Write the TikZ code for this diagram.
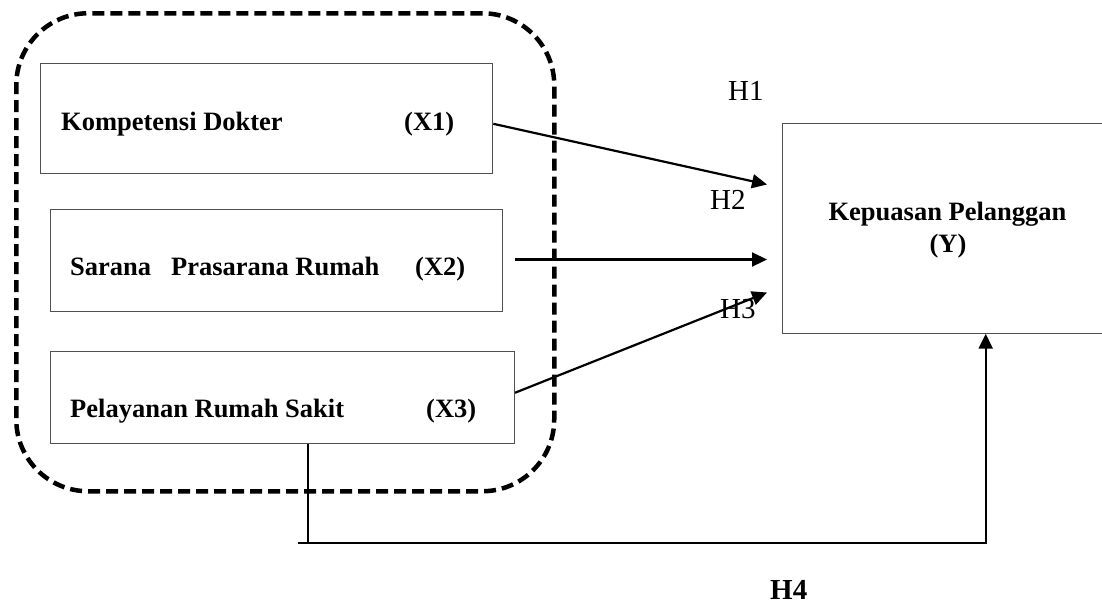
\documentclass[tikz,border=0pt]{standalone}
\usepackage{fontspec}
\setmainfont{Liberation Serif}
\usetikzlibrary{arrows.meta}
\definecolor{boxgray}{HTML}{505050}
\begin{document}
\begin{tikzpicture}[x=1pt,y=-1pt,
  box/.style={draw=boxgray, line width=1pt, inner sep=0pt, anchor=north west},
  lbl/.style={anchor=base west, inner sep=0pt, font=\fontsize{26.5}{32}\selectfont\bfseries},
  hyp/.style={anchor=base west, inner sep=0pt, font=\fontsize{29}{34}\selectfont},
  conn/.style={line width=2.2pt, draw=black},
  arr/.style={conn, -{Triangle[length=15pt,width=14pt]}},
  grpline/.style={draw=black, line width=4.5pt, dash pattern=on 12pt off 6pt, rounded corners=72pt, inner sep=0pt, anchor=north west}
]
\useasboundingbox (0,0) rectangle (1102,606);

% boxes
\node[box, minimum width=452.3pt, minimum height=110pt] (x1) at (40,62.7) {};
\node[box, minimum width=452pt, minimum height=101.4pt] (x2) at (50,209.3) {};
\node[box, minimum width=464pt, minimum height=91.7pt] (x3) at (50,351) {};
\node[box, minimum width=330pt, minimum height=210pt] (y) at (781.7,122.7) {};

% group
\node[grpline, minimum width=538pt, minimum height=478pt] (grp) at (14,11) {};

% texts
\node[lbl] (x1a) at (61,130) {Kompetensi Dokter};
\node[lbl] (x1b) at (404,130) {(X1)};
\node[lbl] (x2a) at (70,275) {Sarana\hspace{0.5em} Prasarana Rumah};
\node[lbl] (x2b) at (415,275) {(X2)};
\node[lbl] (x3a) at (70,417) {Pelayanan Rumah Sakit};
\node[lbl] (x3b) at (426,417) {(X3)};
\node[lbl, anchor=base] (ya) at (947.5,220) {Kepuasan Pelanggan};
\node[lbl, anchor=base] (yb) at (948,252) {(Y)};

\node[hyp] (h1) at (728,100) {H1};
\node[hyp] (h2) at (710,209) {H2};
\node[hyp] (h3) at (720,318) {H3};
\node[hyp, font=\fontsize{29}{34}\selectfont\bfseries] (h4) at (770,599) {H4};

% connectors
\coordinate (s1) at ([yshift=-5.6pt]x1.east);
\coordinate (s2) at ([xshift=12pt,yshift=1pt]x2.east);
\coordinate (s3) at ([yshift=4.6pt]x3.east);
\coordinate (t1) at ([xshift=-14.7pt,yshift=43.7pt]y.west);
\coordinate (t2) at ([xshift=-14.7pt,yshift=-31.3pt]y.west);
\coordinate (t3) at ([xshift=-14.7pt,yshift=-64.3pt]y.west);
\draw[arr] (s1) -- (t1);
\draw[arr] (s2) -- (t2);
\draw[arr] (s3) -- (t3);

\coordinate (v0) at ([xshift=25.7pt]x3.south);
\coordinate (hL) at (298,543);
\coordinate (hR) at (985.7,543);
\draw[conn] (v0) -- (v0 |- hL);
\draw[arr] (hL) -- (hR) -- (hR |- y.south);
\end{tikzpicture}
\end{document}
